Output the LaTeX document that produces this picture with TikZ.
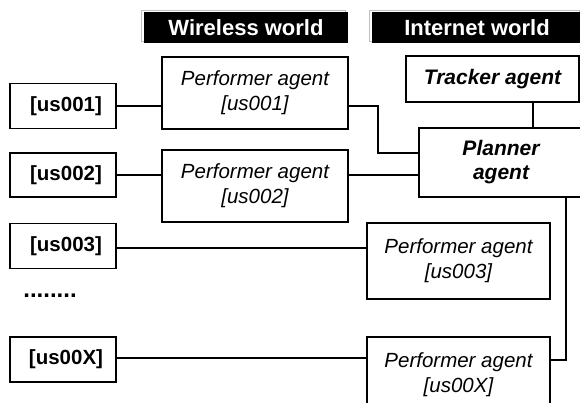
\documentclass[tikz,border=0pt]{standalone}
\usepackage{fontspec}
\setmainfont{Liberation Sans}
\usetikzlibrary{shadows}
\begin{document}
\begin{tikzpicture}[x=1pt,y=-1pt,
	box/.style={draw,line width=1.6pt,align=center,inner sep=0pt},
	userbox/.style={box,minimum width=106pt,minimum height=45pt,font=\fontsize{20.5}{25}\selectfont\bfseries},
	agentbox/.style={box,font=\fontsize{20.5}{25}\selectfont\itshape},
	worldbar/.style={fill=black,text=white,inner sep=0pt,minimum width=204pt,minimum height=31pt,
		general shadow={shadow xshift=-2.5pt,shadow yshift=2pt,fill=white,draw=gray!50,line width=1pt},
		font=\fontsize{22}{26}\selectfont\bfseries},
	link/.style={line width=1.4pt}]
	\useasboundingbox (0,0) rectangle (580,402);
	\clip (0,0) rectangle (580,402);
	\node[worldbar] (wireless) at (246,27.5) {Wireless world};
	\node[worldbar,minimum width=210pt] (internet) at (477,27.5) {Internet world};
	\node[userbox] (u1) at (63,106) {\hspace{6pt}[us001]};
	\node[userbox,minimum height=44pt] (u2) at (63,175) {\hspace{6pt}[us002]};
	\node[userbox] (u3) at (63,246) {\hspace{6pt}[us003]};
	\node[userbox] (ux) at (63,359.5) {\hspace{6pt}[us00X]};
	\node[font=\fontsize{24}{28}\selectfont\bfseries] (dots) at (50,296) {........};
	\node[agentbox,minimum width=186pt,minimum height=72pt] (p1) at (255,93) {Performer agent\\{[us001]}};
	\node[agentbox,minimum width=186pt,minimum height=72pt] (p2) at (255,186) {Performer agent\\{[us002]}};
	\node[agentbox,minimum width=183pt,minimum height=76pt] (p3) at (458.5,261) {Performer agent\\{[us003]}};
	\node[agentbox,minimum width=183pt,minimum height=76pt] (px) at (458.5,375) {Performer agent\\{[us00X]}};
	\node[agentbox,font=\fontsize{21}{24}\selectfont\bfseries\itshape,minimum width=173pt,minimum height=46pt] (tracker) at (492.5,79) {Tracker agent};
	\node[agentbox,font=\fontsize{21}{24}\selectfont\bfseries\itshape,minimum width=164pt,minimum height=69pt] (planner) at (501,162.5) {Planner\\agent};
	\coordinate (bend) at (378,153);
	\coordinate (drop) at (566,360);
	\draw[link] (u1.east) -- (u1.east -| p1.west);
	\draw[link] (u2.east) -- (u2.east -| p2.west);
	\draw[link] (u3.east |- 0,248) -- (p3.west |- 0,248);
	\draw[link] (ux.east |- 0,358) -- (px.west |- 0,358);
	\draw[link] (p1.east |- u1.east) -| (bend) -- (bend -| planner.west);
	\draw[link] (p2.east |- u2.east) -- (planner.west |- u2.east);
	\draw[link] (tracker.south -| 533,0) -- (planner.north -| 533,0);
	\draw[link] (px.east |- drop) -- (drop) -- (drop |- planner.south);
\end{tikzpicture}
\end{document}
